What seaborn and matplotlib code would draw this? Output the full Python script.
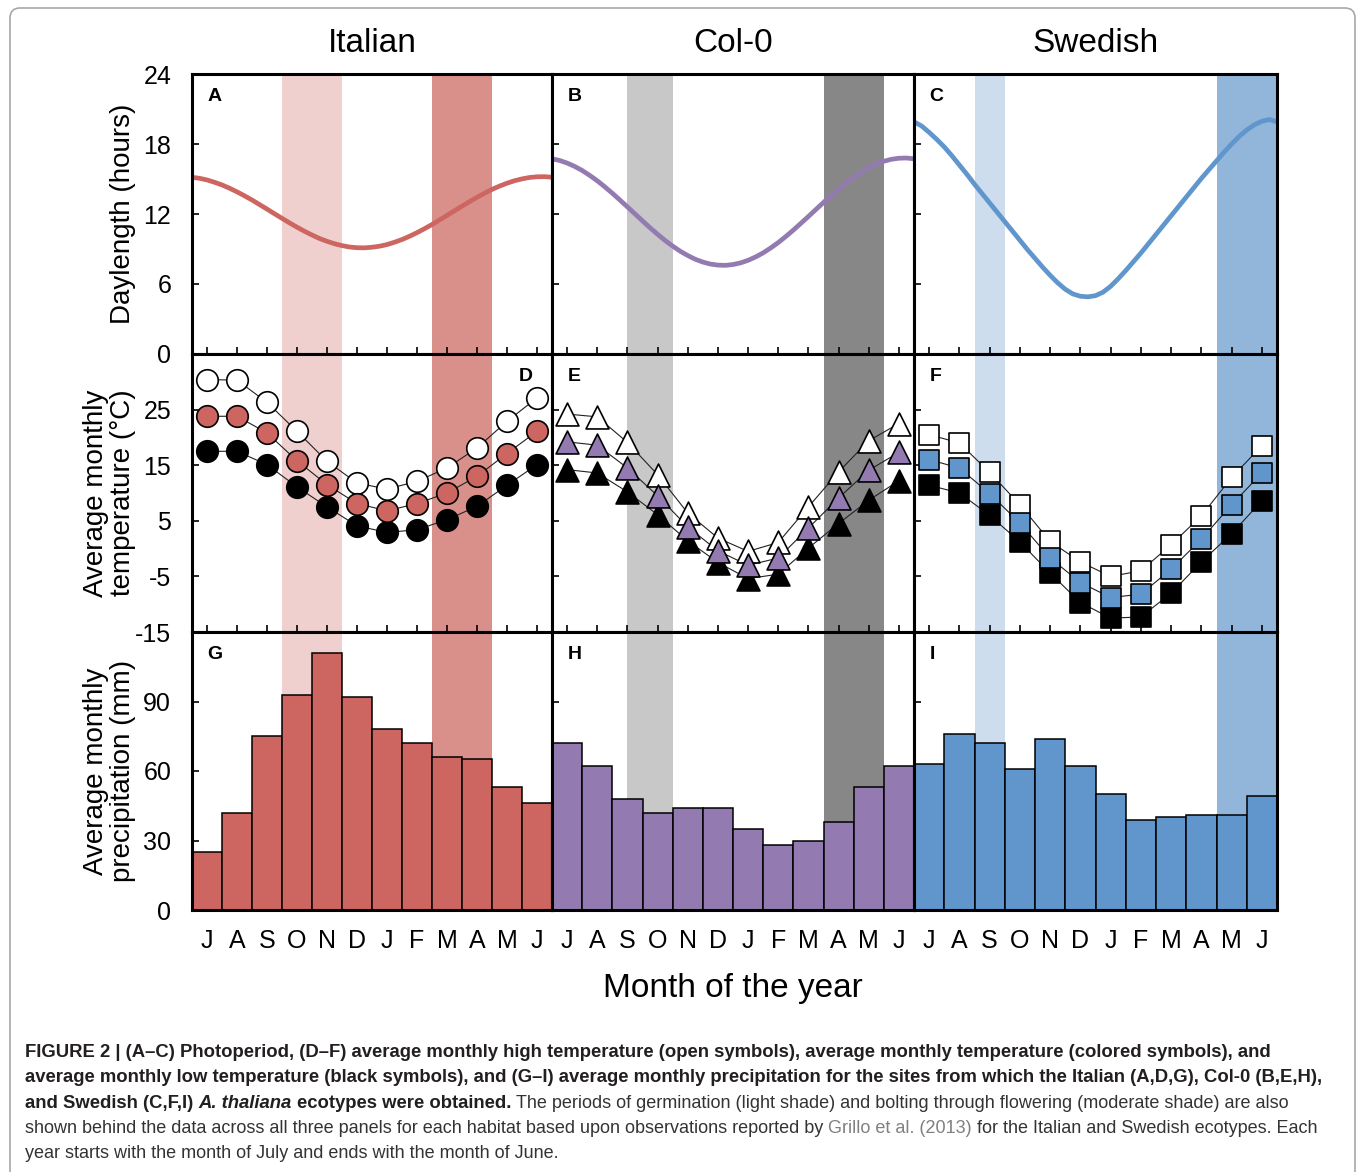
import numpy as np
import pandas as pd
import matplotlib
matplotlib.use('Agg')
import matplotlib.pyplot as plt
import seaborn as sns
from matplotlib.patches import FancyBboxPatch

sns.set_theme(style='white')
plt.rcParams['font.family'] = ['Liberation Sans', 'DejaVu Sans']

# year runs July -> June
months = ['J', 'A', 'S', 'O', 'N', 'D', 'J', 'F', 'M', 'A', 'M', 'J']
sites = ['Italian', 'Col-0', 'Swedish']
letters = [['A', 'D', 'G'], ['B', 'E', 'H'], ['C', 'F', 'I']]

day_pos = np.arange(49) * 0.25 - 0.5
day_italian = [15.15, 15.06, 14.92, 14.72, 14.49, 14.21, 13.90, 13.56, 13.20, 12.81,
               12.42, 12.02, 11.63, 11.24, 10.87, 10.52, 10.20, 9.90, 9.66, 9.45,
               9.29, 9.17, 9.11, 9.10, 9.15, 9.24, 9.38, 9.58, 9.81, 10.09,
               10.40, 10.74, 11.10, 11.49, 11.88, 12.28, 12.67, 13.06, 13.43, 13.78,
               14.11, 14.39, 14.64, 14.85, 15.01, 15.13, 15.19, 15.20, 15.15]
day_col0 = [16.73, 16.59, 16.37, 16.08, 15.73, 15.31, 14.85, 14.33, 13.78, 13.20,
            12.61, 12.01, 11.41, 10.82, 10.26, 9.73, 9.25, 8.81, 8.44, 8.12,
            7.88, 7.71, 7.62, 7.60, 7.67, 7.81, 8.03, 8.32, 8.67, 9.09,
            9.55, 10.07, 10.62, 11.20, 11.79, 12.39, 12.99, 13.58, 14.14, 14.67,
            15.15, 15.59, 15.96, 16.28, 16.52, 16.69, 16.78, 16.80, 16.73]
day_swedish = [19.90, 19.55, 19.00, 18.40, 17.75, 17.00, 16.20, 15.40, 14.55, 13.75,
               12.95, 12.15, 11.35, 10.55, 9.75, 8.95, 8.20, 7.45, 6.75, 6.10,
               5.55, 5.15, 4.95, 4.90, 5.00, 5.30, 5.80, 6.45, 7.15, 7.90,
               8.65, 9.45, 10.25, 11.05, 11.85, 12.65, 13.45, 14.25, 15.05, 15.80,
               16.55, 17.30, 18.00, 18.65, 19.20, 19.65, 19.95, 20.10, 19.90]

# monthly temperature (C): high / mean / low
it_high = [30.4, 30.3, 26.3, 21.1, 15.7, 11.8, 10.7, 12.1, 14.5, 18.1, 22.9, 27.1]
it_mean = [23.8, 23.8, 20.8, 15.8, 11.5, 8.1, 6.8, 8.1, 10.0, 13.0, 17.1, 21.1]
it_low = [17.5, 17.5, 15.1, 11.1, 7.5, 4.1, 2.9, 3.4, 5.2, 7.6, 11.4, 15.1]
col_high = [24.2, 23.7, 19.1, 13.3, 6.4, 1.9, -0.5, 1.1, 7.5, 13.8, 19.4, 22.5]
col_mean = [19.2, 18.6, 14.5, 9.5, 3.9, -0.4, -3.0, -1.7, 3.7, 9.1, 14.1, 17.3]
col_low = [14.2, 13.6, 10.2, 6.1, 1.4, -2.5, -5.4, -4.6, 0.1, 4.5, 8.7, 12.2]
sw_high = [20.5, 19.0, 13.7, 7.9, 1.3, -2.4, -5.0, -4.0, 0.7, 5.9, 12.8, 18.5]
sw_mean = [16.0, 14.5, 9.9, 4.6, -1.7, -6.1, -8.8, -8.2, -3.7, 1.7, 7.9, 13.6]
sw_low = [11.4, 10.0, 6.0, 1.2, -4.4, -9.7, -12.5, -12.3, -8.0, -2.4, 2.7, 8.6]

# monthly precipitation (mm)
it_prec = [25, 42, 75, 93, 111, 92, 78, 72, 66, 65, 53, 46]
col_prec = [72, 62, 48, 42, 44, 44, 35, 28, 30, 38, 53, 62]
sw_prec = [63, 76, 72, 61, 74, 62, 50, 39, 40, 41, 41, 49]

# germination / bolting periods, in months after 1 July
germ = {'Italian': (3, 5), 'Col-0': (2.5, 4), 'Swedish': (2, 3)}
bolt = {'Italian': (8, 10), 'Col-0': (9, 11), 'Swedish': (10, 12)}

daylength = {'Italian': day_italian, 'Col-0': day_col0, 'Swedish': day_swedish}
temps = {'Italian': (it_high, it_mean, it_low),
         'Col-0': (col_high, col_mean, col_low),
         'Swedish': (sw_high, sw_mean, sw_low)}
precip = {'Italian': it_prec, 'Col-0': col_prec, 'Swedish': sw_prec}

colors = {
    'Italian': dict(main='#CD6660', light='#F0D0CE', dark='#DA908A', marker='o', s=15.5),
    'Col-0': dict(main='#937BB2', light='#C8C8C8', dark='#878787', marker='^', s=16.5),
    'Swedish': dict(main='#6096CC', light='#CDDDEE', dark='#91B6DA', marker='s', s=14.5),
}

W, H = 1358, 1172
fig = plt.figure(figsize=(W / 100, H / 100), dpi=100)


def fx(px):
    return px / W


def fy(py):
    return 1 - py / H


col_l = [192, 552, 914]
col_r = [552, 914, 1277]
row_t = [74, 354, 632]
row_b = [354, 632, 910]
month_pos = np.arange(12)

for j, site in enumerate(sites):
    c = colors[site]
    for i in range(3):
        ax = fig.add_axes([fx(col_l[j]), fy(row_b[i]),
                           (col_r[j] - col_l[j]) / W, (row_b[i] - row_t[i]) / H])
        g0, g1 = germ[site]
        b0, b1 = bolt[site]
        ax.axvspan(g0 - 0.5, g1 - 0.5, color=c['light'], lw=0, zorder=0.5)
        ax.axvspan(b0 - 0.5, b1 - 0.5, color=c['dark'], lw=0, zorder=0.5)

        if i == 0:
            sns.lineplot(x=day_pos, y=daylength[site], color=c['main'], lw=3.4, ax=ax)
            ax.set_ylim(0, 24)
            ax.set_yticks([0, 6, 12, 18, 24])
            ax.set_yticklabels(['0', '6', '12', '18', '24'])
        elif i == 1:
            high, mean, low = temps[site]
            for vals, fill in [(high, 'white'), (low, 'black'), (mean, c['main'])]:
                sns.lineplot(x=month_pos, y=vals, color='#222222', lw=0.8, ax=ax, zorder=2)
                sns.scatterplot(x=month_pos, y=vals, marker=c['marker'], s=c['s'] ** 2,
                                color=fill, edgecolor='black', linewidth=1.2,
                                ax=ax, zorder=3)
            ax.set_ylim(-15, 35)
            ax.set_yticks([-15, -5, 5, 15, 25, 35])
            ax.set_yticklabels(['-15', '-5', '5', '15', '25', ''])
        else:
            sns.barplot(x=month_pos, y=precip[site], color=c['main'], saturation=1,
                        width=1, edgecolor='black', linewidth=1.1, ax=ax, zorder=1)
            ax.set_ylim(0, 120)
            ax.set_yticks([0, 30, 60, 90, 120])
            ax.set_yticklabels(['0', '30', '60', '90', ''])

        ax.set_xlim(-0.5, 11.5)
        ax.set_xticks(month_pos)
        ax.set_xticklabels(months)
        ax.set_xlabel('')
        ax.set_ylabel('')
        ax.tick_params(axis='both', direction='in', length=5, width=1.2, color='black',
                       labelsize=18, labelcolor='black', left=True, bottom=True,
                       top=False, right=False)
        ax.tick_params(axis='y', pad=15)
        ax.tick_params(axis='x', pad=14)
        if j > 0:
            ax.tick_params(axis='y', labelleft=False)
        if i < 2:
            ax.tick_params(axis='x', labelbottom=False)
        for sp in ax.spines.values():
            sp.set_visible(True)
            sp.set_linewidth(2.2)
            sp.set_color('black')
            sp.set_zorder(5)

        lt = letters[j][i]
        if lt == 'D':
            ax.annotate(lt, xy=(1, 1), xycoords='axes fraction', xytext=(-14, -10),
                        textcoords='offset points', ha='right', va='top',
                        fontsize=14, fontweight='bold', color='black')
        else:
            ax.annotate(lt, xy=(0, 1), xycoords='axes fraction', xytext=(11, -10),
                        textcoords='offset points', ha='left', va='top',
                        fontsize=14, fontweight='bold', color='black')

    fig.text(fx((col_l[j] + col_r[j]) / 2), fy(44), site, ha='center', va='center',
             fontsize=24, color='black')

# y labels
ylabels = ['Daylength (hours)', 'Average monthly\ntemperature (°C)',
           'Average monthly\nprecipitation (mm)']
for i, lab in enumerate(ylabels):
    fig.text(fx(136), fy((row_t[i] + row_b[i]) / 2), lab, rotation=90,
             rotation_mode='anchor', ha='center', va='bottom', fontsize=20,
             linespacing=1.05, multialignment='center', color='black')

fig.text(fx(733), fy(988), 'Month of the year', ha='center', va='center',
         fontsize=24, color='black')

# frame around figure + caption
frame = FancyBboxPatch((10, -30), 1345, H - 8 + 30, boxstyle='round,pad=0,rounding_size=10',
                       transform=None, fill=False, edgecolor='#A8A8A8', lw=1.2)
fig.add_artist(frame)

dark = '#231F20'
reg = '#333333'
link = '#808080'
caption = [
    [('FIGURE 2 | (A–C) Photoperiod, (D–F) average monthly high temperature (open symbols), '
      'average monthly temperature (colored symbols), and', 'bold', 'normal', dark)],
    [('average monthly low temperature (black symbols), and (G–I) average monthly precipitation '
      'for the sites from which the Italian (A,D,G), Col-0 (B,E,H),', 'bold', 'normal', dark)],
    [('and Swedish (C,F,I)', 'bold', 'normal', dark),
     (' A. thaliana', 'bold', 'italic', dark),
     (' ecotypes were obtained.', 'bold', 'normal', dark),
     (' The periods of germination (light shade) and bolting through flowering '
      '(moderate shade) are also', 'normal', 'normal', reg)],
    [('shown behind the data across all three panels for each habitat based upon '
      'observations reported by', 'normal', 'normal', reg),
     (' Grillo et al. (2013)', 'normal', 'normal', link),
     (' for the Italian and Swedish ecotypes. Each', 'normal', 'normal', reg)],
    [('year starts with the month of July and ends with the month of June.',
      'normal', 'normal', reg)],
]
baselines = [1057, 1082.3, 1107.5, 1132.8, 1158]
renderer = fig.canvas.get_renderer()


def space_w(size, wt, st):
    a = fig.text(0, 0, 'x x', fontsize=size, fontweight=wt, fontstyle=st)
    b = fig.text(0, 0, 'xx', fontsize=size, fontweight=wt, fontstyle=st)
    w = a.get_window_extent(renderer).width - b.get_window_extent(renderer).width
    a.remove()
    b.remove()
    return w


def put_line(pieces, x0, ybase, sizes):
    x = x0
    arts = []
    for txt, wt, st, col in pieces:
        size = sizes[wt]
        if txt.startswith(' '):
            x += space_w(size, wt, st)
            txt = txt.lstrip(' ')
        t = fig.text(x / W, fy(ybase), txt, fontsize=size, fontweight=wt, fontstyle=st,
                     color=col, ha='left', va='baseline')
        x = t.get_window_extent(renderer).x1
        arts.append(t)
    return x, arts


# fit bold text to line 1 width, regular text to line 4 width
trial = {'bold': 12, 'normal': 12}
end_b, arts_b = put_line(caption[0], 25, baselines[0], trial)
end_n, arts_n = put_line(caption[3], 25, baselines[3], trial)
for a in arts_b + arts_n:
    a.remove()
sizes = {'bold': 12 * 1250 / (end_b - 25), 'normal': 12 * 1297 / (end_n - 25)}

for line, yb in zip(caption, baselines):
    put_line(line, 25, yb, sizes)

fig.savefig('out.png', dpi=100)
